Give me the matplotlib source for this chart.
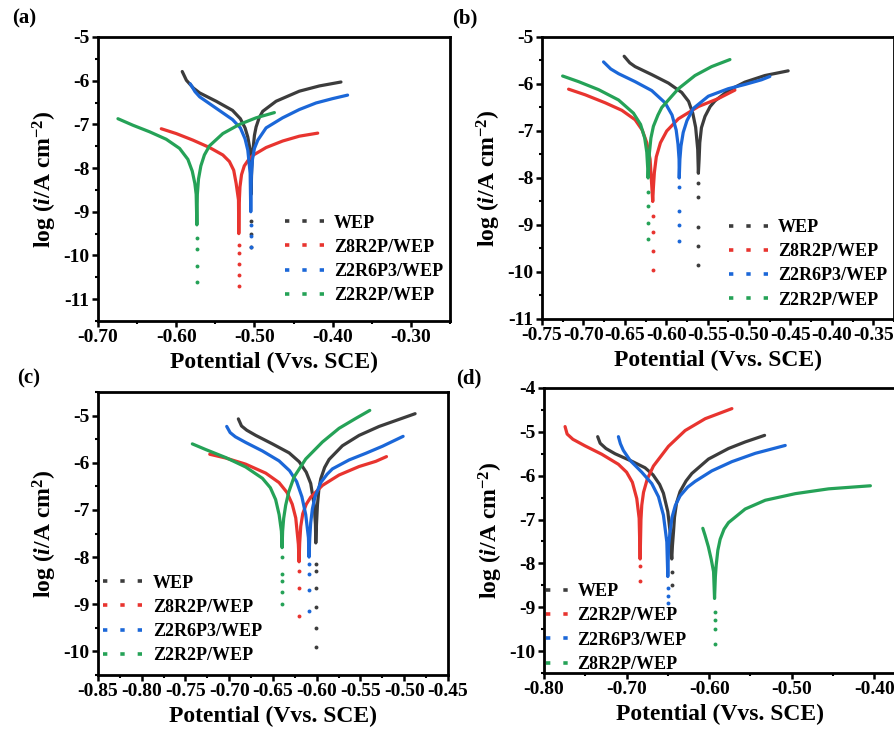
import matplotlib
matplotlib.use("Agg")
import matplotlib.pyplot as plt
from matplotlib.ticker import MultipleLocator, FormatStrFormatter
from matplotlib.lines import Line2D

plt.rcParams['font.family'] = ['Liberation Serif', 'DejaVu Serif']
plt.rcParams['font.weight'] = 'bold'
plt.rcParams['axes.labelweight'] = 'bold'
plt.rcParams['axes.unicode_minus'] = False
plt.rcParams['mathtext.fontset'] = 'custom'
plt.rcParams['mathtext.rm'] = 'Liberation Serif:bold'
plt.rcParams['mathtext.it'] = 'Liberation Serif:bold:italic'
plt.rcParams['mathtext.bf'] = 'Liberation Serif:bold'

GRAY, RED, BLUE, GREEN = '#3c3c3c', '#e8342f', '#1b67d8', '#25a257'

# ---- panel (a): (E / V vs SCE, log i), cathodic -> Ecorr -> anodic
a_wep = [(-0.5923, -5.79), (-0.587, -5.99), (-0.578, -6.17), (-0.570, -6.28), (-0.549, -6.47),
         (-0.528, -6.68), (-0.518, -6.87), (-0.512, -7.08), (-0.5085, -7.29), (-0.5055, -7.59),
         (-0.5043, -8.0), (-0.5043, -8.6), (-0.5035, -8.0), (-0.502, -7.6), (-0.5, -7.25),
         (-0.4979, -7.06), (-0.494, -6.85), (-0.4894, -6.70), (-0.4723, -6.47), (-0.4426, -6.24),
         (-0.417, -6.12), (-0.3894, -6.03)]
a_z8r2p = [(-0.6191, -7.10), (-0.600, -7.21), (-0.5787, -7.36), (-0.5574, -7.53), (-0.5404, -7.70),
           (-0.532, -7.85), (-0.5265, -8.05), (-0.5234, -8.35), (-0.5204, -8.73), (-0.520, -9.5),
           (-0.5195, -8.8), (-0.5185, -8.43), (-0.5165, -8.15), (-0.513, -7.95), (-0.508, -7.82),
           (-0.5021, -7.71), (-0.4851, -7.53), (-0.4638, -7.38), (-0.4426, -7.27), (-0.4191, -7.20)]
a_z2r6p3 = [(-0.5821, -6.07), (-0.576, -6.25), (-0.570, -6.37), (-0.549, -6.63), (-0.528, -6.89),
            (-0.518, -7.08), (-0.512, -7.33), (-0.5085, -7.59), (-0.5055, -8.12), (-0.5047, -9.0),
            (-0.504, -8.2), (-0.5025, -7.8), (-0.5, -7.55), (-0.4957, -7.36), (-0.4851, -7.08),
            (-0.464, -6.85), (-0.4426, -6.66), (-0.4213, -6.51), (-0.400, -6.41), (-0.3809, -6.33)]
a_z2r2p = [(-0.6745, -6.87), (-0.6553, -7.02), (-0.634, -7.17), (-0.6128, -7.34), (-0.5957, -7.55),
           (-0.5851, -7.80), (-0.5795, -8.07), (-0.5762, -8.35), (-0.5745, -8.6), (-0.5736, -9.3),
           (-0.573, -8.6), (-0.5715, -8.25), (-0.5685, -7.95), (-0.564, -7.70), (-0.5574, -7.49),
           (-0.5404, -7.21), (-0.5191, -7.00), (-0.4979, -6.85), (-0.4745, -6.73)]
a_dots = [[-9.2, -9.5, -9.8], [-9.75, -9.95, -10.2, -10.45, -10.7],
          [-9.3, -9.55, -9.8], [-9.6, -9.85, -10.25, -10.6]]

# ---- panel (b)
b_wep = [(-0.6508, -5.41), (-0.6440, -5.55), (-0.6376, -5.63), (-0.6175, -5.80), (-0.5974, -5.98),
         (-0.5813, -6.18), (-0.5730, -6.37), (-0.5680, -6.62), (-0.5645, -6.92), (-0.562, -7.39),
         (-0.5612, -7.9), (-0.5603, -7.6), (-0.5595, -7.25), (-0.5575, -6.93), (-0.5532, -6.69),
         (-0.5470, -6.48), (-0.5412, -6.36), (-0.5251, -6.14), (-0.505, -5.96), (-0.4809, -5.82),
         (-0.4528, -5.72)]
b_z8r2p = [(-0.7179, -6.11), (-0.6978, -6.23), (-0.6737, -6.40), (-0.6536, -6.56), (-0.6376, -6.76),
           (-0.6290, -6.98), (-0.6235, -7.25), (-0.6195, -7.60), (-0.6175, -8.16), (-0.6163, -8.5),
           (-0.6155, -8.2), (-0.6143, -7.88), (-0.6120, -7.55), (-0.6070, -7.25), (-0.5994, -7.00),
           (-0.5853, -6.74), (-0.5612, -6.48), (-0.5371, -6.31), (-0.5171, -6.13)]
b_z2r6p3 = [(-0.6757, -5.53), (-0.6670, -5.68), (-0.6576, -5.78), (-0.6376, -5.95), (-0.6175, -6.14),
            (-0.6014, -6.40), (-0.5930, -6.66), (-0.5880, -6.98), (-0.5858, -7.28), (-0.5845, -7.60),
            (-0.5843, -8.0), (-0.5835, -7.6), (-0.5822, -7.32), (-0.5795, -7.03), (-0.5750, -6.78),
            (-0.5673, -6.52), (-0.5492, -6.26), (-0.5251, -6.10), (-0.505, -6.01), (-0.4849, -5.91),
            (-0.4749, -5.84)]
b_z2r2p = [(-0.7251, -5.83), (-0.7058, -5.95), (-0.6817, -6.12), (-0.6576, -6.34), (-0.6396, -6.62),
           (-0.6310, -6.86), (-0.6260, -7.15), (-0.6235, -7.45), (-0.6223, -7.81), (-0.6219, -8.0),
           (-0.6213, -7.8), (-0.6203, -7.46), (-0.6185, -7.15), (-0.6155, -6.90), (-0.6100, -6.66),
           (-0.6054, -6.50), (-0.5853, -6.10), (-0.5653, -5.82), (-0.5452, -5.63), (-0.5231, -5.48)]
b_dots = [[-8.1, -8.4, -9.05, -9.45, -9.85], [-8.8, -9.15, -9.55, -9.95],
          [-8.2, -8.7, -9.0, -9.35], [-8.3, -8.6, -8.95, -9.3]]

# ---- panel (c)
c_wep = [(-0.6896, -5.07), (-0.686, -5.22), (-0.680, -5.31), (-0.6697, -5.42), (-0.6507, -5.60),
         (-0.6316, -5.79), (-0.6200, -5.98), (-0.6120, -6.20), (-0.6069, -6.44), (-0.603, -6.89),
         (-0.6015, -7.31), (-0.6011, -7.7), (-0.6003, -7.3), (-0.5992, -6.89), (-0.5975, -6.55),
         (-0.5954, -6.34), (-0.5910, -6.10), (-0.5859, -5.93), (-0.5707, -5.64), (-0.5516, -5.42),
         (-0.5287, -5.23), (-0.5059, -5.08), (-0.4876, -4.96)]
c_z8r2p = [(-0.7223, -5.82), (-0.704, -5.90), (-0.6812, -6.03), (-0.6583, -6.22), (-0.6431, -6.42),
           (-0.6340, -6.63), (-0.6280, -6.88), (-0.624, -7.17), (-0.621, -7.73), (-0.6202, -8.1),
           (-0.6195, -7.7), (-0.6183, -7.35), (-0.6160, -7.08), (-0.6120, -6.88), (-0.6069, -6.73),
           (-0.5935, -6.48), (-0.5745, -6.26), (-0.5516, -6.08), (-0.5325, -5.97), (-0.5203, -5.87)]
c_z2r6p3 = [(-0.7029, -5.23), (-0.6990, -5.36), (-0.6930, -5.45), (-0.6812, -5.57), (-0.6621, -5.75),
            (-0.6431, -5.96), (-0.6310, -6.17), (-0.6230, -6.40), (-0.6170, -6.72), (-0.6126, -7.10),
            (-0.6095, -7.59), (-0.6088, -8.0), (-0.608, -7.6), (-0.6069, -7.27), (-0.6050, -6.98),
            (-0.6020, -6.72), (-0.5954, -6.42), (-0.5880, -6.24), (-0.5821, -6.13), (-0.563, -5.94),
            (-0.544, -5.80), (-0.5249, -5.65), (-0.5013, -5.44)]
c_z2r2p = [(-0.7422, -5.60), (-0.7269, -5.72), (-0.704, -5.89), (-0.6812, -6.09), (-0.6621, -6.33),
           (-0.6530, -6.53), (-0.6470, -6.78), (-0.6430, -7.10), (-0.6404, -7.45), (-0.6396, -7.8),
           (-0.639, -7.45), (-0.6378, -7.18), (-0.6355, -6.90), (-0.6320, -6.62), (-0.6259, -6.30),
           (-0.6126, -5.92), (-0.5935, -5.56), (-0.5745, -5.27), (-0.5554, -5.06), (-0.5394, -4.89)]
c_dots = [[-8.15, -8.3, -8.65, -9.05, -9.5, -9.9], [-8.3, -8.65, -9.25],
          [-8.15, -8.35, -8.7, -9.15], [-8.0, -8.35, -8.5, -8.75, -9.0]]

# ---- panel (d)
d_wep = [(-0.735, -5.11), (-0.7320, -5.26), (-0.7250, -5.38), (-0.7139, -5.50), (-0.6937, -5.67),
         (-0.6776, -5.82), (-0.6680, -5.98), (-0.6600, -6.20), (-0.6554, -6.40), (-0.6501, -6.82),
         (-0.6473, -7.28), (-0.6461, -7.73), (-0.6453, -7.9), (-0.6445, -7.6), (-0.6432, -7.28),
         (-0.6420, -6.95), (-0.6395, -6.62), (-0.6352, -6.36), (-0.6280, -6.12), (-0.621, -5.95),
         (-0.6008, -5.62), (-0.5766, -5.38), (-0.5564, -5.23), (-0.5329, -5.08)]
d_z2r2p = [(-0.7745, -4.88), (-0.7720, -5.05), (-0.7650, -5.17), (-0.7503, -5.32), (-0.7301, -5.51),
           (-0.7099, -5.74), (-0.7000, -5.92), (-0.6930, -6.15), (-0.6877, -6.52), (-0.6848, -6.97),
           (-0.6836, -7.9), (-0.6826, -7.0), (-0.6816, -6.67), (-0.6795, -6.38), (-0.6750, -6.08),
           (-0.6675, -5.78), (-0.6493, -5.33), (-0.6291, -4.97), (-0.6048, -4.70), (-0.5725, -4.47)]
d_z2r6p3 = [(-0.7099, -5.11), (-0.7075, -5.27), (-0.7040, -5.42), (-0.6958, -5.65), (-0.6816, -5.92),
            (-0.6695, -6.18), (-0.6614, -6.48), (-0.6554, -6.90), (-0.6513, -7.51), (-0.6501, -8.3),
            (-0.6492, -7.6), (-0.6473, -7.28), (-0.6450, -6.95), (-0.6410, -6.68), (-0.6352, -6.46),
            (-0.6260, -6.26), (-0.617, -6.13), (-0.5968, -5.89), (-0.5725, -5.68), (-0.5442, -5.49),
            (-0.5079, -5.31)]
d_z8r2p = [(-0.6077, -7.20), (-0.6050, -7.36), (-0.6010, -7.62), (-0.5975, -7.91), (-0.5947, -8.19),
           (-0.5935, -8.8), (-0.5925, -8.3), (-0.5915, -8.04), (-0.5895, -7.70), (-0.5867, -7.45),
           (-0.5820, -7.22), (-0.5766, -7.07), (-0.5564, -6.76), (-0.5321, -6.56), (-0.4958, -6.41),
           (-0.4554, -6.30), (-0.4048, -6.23)]
d_dots = [[-8.2, -8.5], [-8.05, -8.4], [-8.55, -8.75, -8.9], [-9.1, -9.3, -9.5, -9.85]]

labels_abc = ['WEP', 'Z8R2P/WEP', 'Z2R6P3/WEP', 'Z2R2P/WEP']
labels_d = ['WEP', 'Z2R2P/WEP', 'Z2R6P3/WEP', 'Z8R2P/WEP']

W, H = 895, 737
fig = plt.figure(figsize=(W / 100, H / 100), dpi=100)


def px_axes(x0, y0, x1, y1):
    return fig.add_axes([x0 / W, 1 - y1 / H, (x1 - x0) / W, (y1 - y0) / H])


def panel(ax, curves, dots, labels, xlim, ylim, xstep, ystep, ylab, leg_xy, hlen):
    colors = [GRAY, RED, BLUE, GREEN]
    for pts, dd, col in zip(curves, dots, colors):
        xs = [p[0] for p in pts]
        ys = [p[1] for p in pts]
        ax.plot(xs, ys, color=col, lw=2.3, solid_capstyle='round', solid_joinstyle='round', zorder=3)
        ecorr = min(pts, key=lambda p: p[1])[0]
        ax.plot([ecorr] * len(dd), dd, ls='none', marker='o', ms=2.8, mew=0, color=col, zorder=3)
    ax.set_xlim(*xlim)
    ax.set_ylim(*ylim)
    ax.xaxis.set_major_locator(MultipleLocator(xstep))
    ax.xaxis.set_minor_locator(MultipleLocator(xstep / 2))
    ax.yaxis.set_major_locator(MultipleLocator(ystep))
    ax.yaxis.set_minor_locator(MultipleLocator(ystep / 2))
    ax.xaxis.set_major_formatter(FormatStrFormatter('%.2f'))
    ax.yaxis.set_major_formatter(FormatStrFormatter('%d'))
    ax.tick_params(which='major', direction='out', length=4, width=1.8, labelsize=14, pad=2)
    ax.tick_params(which='minor', direction='out', length=2.5, width=1.5)
    for lab in ax.get_xticklabels() + ax.get_yticklabels():
        lab.set_fontweight('bold')
    for s in ax.spines.values():
        s.set_linewidth(2.0)
    ax.set_xlabel('Potential (Vvs. SCE)', fontsize=17, fontweight='bold', labelpad=4)
    ax.set_ylabel(ylab, fontsize=17, fontweight='bold', labelpad=3)
    handles = [Line2D([], [], color=c, lw=2.6, ls=(0, (1.2, 3.6))) for c in colors]
    leg = ax.legend(handles, labels, loc='upper left', bbox_to_anchor=leg_xy, frameon=False,
                    fontsize=13, handlelength=hlen, handletextpad=0.15, labelspacing=0.4,
                    borderpad=0, borderaxespad=0)
    for t in leg.get_texts():
        t.set_fontweight('bold')


ylab_m2 = 'log ($i$/A cm$^{-2}$)'
ylab_p2 = 'log ($i$/A cm$^{2}$)'

ax_a = px_axes(98, 37, 450, 321)
panel(ax_a, [a_wep, a_z8r2p, a_z2r6p3, a_z2r2p], a_dots, labels_abc,
      (-0.70, -0.25), (-11.5, -5), 0.1, 1, ylab_m2, (0.53, 0.375), 2.6)

ax_b = px_axes(542, 37, 894, 319)
panel(ax_b, [b_wep, b_z8r2p, b_z2r6p3, b_z2r2p], b_dots, labels_abc,
      (-0.75, -0.325), (-11, -5), 0.05, 1, ylab_m2, (0.53, 0.355), 2.6)

ax_c = px_axes(98, 392, 448, 675)
panel(ax_c, [c_wep, c_z8r2p, c_z2r6p3, c_z2r2p], c_dots, labels_abc,
      (-0.85, -0.45), (-10.5, -4.5), 0.05, 1, ylab_p2, (0.015, 0.355), 2.6)

ax_d = px_axes(544, 388, 895, 673)
panel(ax_d, [d_wep, d_z2r2p, d_z2r6p3, d_z8r2p], d_dots, labels_d,
      (-0.80, -0.375), (-10.5, -4), 0.1, 1, ylab_m2, (0.005, 0.315), 1.6)

for txt, x, y in [('(a)', 12, 18), ('(b)', 452, 18), ('(c)', 17, 378), ('(d)', 456, 378)]:
    fig.text(x / W, 1 - y / H, txt, fontsize=15, fontweight='bold', va='center', ha='left')

fig.savefig('out.png', dpi=100)
